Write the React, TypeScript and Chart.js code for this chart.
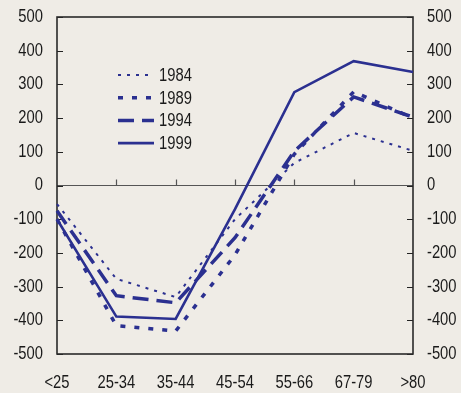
import React, { useEffect, useRef } from "react";
import { Chart, registerables } from "chart.js";

Chart.register(...registerables);

const categories = ["<25", "25-34", "35-44", "45-54", "55-66", "67-79", ">80"];
const seriesNames = ["1984", "1989", "1994", "1999"];
const values1984 = [-55, -277, -331, -100, 67, 156, 103];
const values1989 = [-100, -416, -432, -206, 93, 278, 200];
const values1994 = [-75, -327, -348, -155, 102, 263, 203];
const values1999 = [-100, -389, -396, -70, 277, 369, 337];
const yTicks = [-500, -400, -300, -200, -100, 0, 100, 200, 300, 400, 500];

const BG = "#EFECE6";
const LINE = "#2B3090";
const TEXT = "#1a1a1a";
const FONT = "18px 'Liberation Sans', Arial, sans-serif";
const NARROW = 0.82;

function narrowText(ctx: CanvasRenderingContext2D, text: string, x: number, y: number, align: CanvasTextAlign) {
  ctx.save();
  ctx.translate(x, y);
  ctx.scale(NARROW, 1);
  ctx.font = FONT;
  ctx.fillStyle = TEXT;
  ctx.textAlign = align;
  ctx.textBaseline = "middle";
  ctx.fillText(text, 0, 0);
  ctx.restore();
}

export default function App() {
  const ref = useRef<HTMLCanvasElement | null>(null);
  useEffect(() => {
    const canvas = ref.current;
    if (!canvas) return;
    const framePlugin = {
      id: "frame",
      beforeDraw(chart: any) {
        const { ctx, width, height } = chart;
        ctx.save();
        ctx.fillStyle = BG;
        ctx.fillRect(0, 0, width, height);
        ctx.restore();
      },
      beforeDatasetsDraw(chart: any) {
        const { ctx, chartArea: a, scales } = chart;
        const y = scales.y;
        const x = scales.x;
        ctx.save();
        const y0 = y.getPixelForValue(0);
        ctx.strokeStyle = "#555";
        ctx.lineWidth = 1.2;
        ctx.beginPath();
        ctx.moveTo(a.left, y0);
        ctx.lineTo(a.right, y0);
        ctx.stroke();
        for (let i = 1; i < categories.length - 1; i++) {
          const px = Math.round(x.getPixelForValue(i)) + 0.5;
          ctx.beginPath();
          ctx.moveTo(px, y0);
          ctx.lineTo(px, y0 - 6);
          ctx.stroke();
        }
        ctx.strokeStyle = "#222";
        ctx.lineWidth = 1.2;
        yTicks.forEach((v) => {
          const py = Math.round(y.getPixelForValue(v)) + 0.5;
          ctx.beginPath();
          ctx.moveTo(a.left, py);
          ctx.lineTo(a.left + 6, py);
          ctx.moveTo(a.right, py);
          ctx.lineTo(a.right - 6, py);
          ctx.stroke();
        });
        ctx.strokeStyle = "#2a2a2a";
        ctx.lineWidth = 1.6;
        ctx.strokeRect(a.left, a.top, a.right - a.left, a.bottom - a.top);
        // tick labels
        yTicks.forEach((v) => {
          const py = y.getPixelForValue(v);
          narrowText(ctx, String(v), a.left - 14, py, "right");
          narrowText(ctx, String(v), a.right + 14, py, "left");
        });
        categories.forEach((c, i) => {
          narrowText(ctx, c, x.getPixelForValue(i), a.bottom + 29, "center");
        });
        ctx.restore();
      },
      afterDatasetsDraw(chart: any) {
        const { ctx, chartArea: a } = chart;
        ctx.save();
        const x1 = a.left + 61;
        const x2 = a.left + 97;
        chart.data.datasets.forEach((ds: any, i: number) => {
          const py = a.top + 58 + i * 22.7;
          ctx.strokeStyle = ds.borderColor;
          ctx.lineWidth = ds.borderWidth;
          ctx.setLineDash(ds.borderDash || []);
          ctx.beginPath();
          ctx.moveTo(x1, py);
          ctx.lineTo(x2, py);
          ctx.stroke();
          ctx.setLineDash([]);
          narrowText(ctx, ds.label, x2 + 5, py + 1, "left");
        });
        ctx.restore();
      },
    };

    const mk = (label: string, data: number[], width: number, dash: number[]) => ({
      label,
      data,
      borderColor: LINE,
      backgroundColor: LINE,
      borderWidth: width,
      borderDash: dash,
      pointRadius: 0,
      tension: 0,
      fill: false,
    });

    const hiddenTicks = { display: false };
    const chart = new Chart(canvas, {
      type: "line",
      data: {
        labels: categories,
        datasets: [
          mk(seriesNames[0], values1984, 2, [3, 6]),
          mk(seriesNames[1], values1989, 3.5, [5, 9]),
          mk(seriesNames[2], values1994, 3.5, [16, 8]),
          mk(seriesNames[3], values1999, 2.6, []),
        ],
      },
      options: {
        animation: false,
        responsive: false,
        layout: { padding: { top: 17, left: 0, right: 0, bottom: 0 } },
        plugins: { legend: { display: false }, tooltip: { enabled: false } },
        scales: {
          x: {
            type: "category",
            offset: false,
            grid: { display: false, drawTicks: false },
            border: { display: false },
            ticks: hiddenTicks,
            afterFit(s: any) {
              s.height = 39;
            },
          },
          y: {
            position: "left",
            min: -500,
            max: 500,
            grid: { display: false, drawTicks: false },
            border: { display: false },
            ticks: { ...hiddenTicks, stepSize: 100 },
            afterFit(s: any) {
              s.width = 57;
            },
          },
          y2: {
            position: "right",
            min: -500,
            max: 500,
            grid: { display: false, drawTicks: false },
            border: { display: false },
            ticks: { ...hiddenTicks, stepSize: 100 },
            afterFit(s: any) {
              s.width = 48;
            },
          },
        },
      },
      plugins: [framePlugin],
    } as any);
    return () => chart.destroy();
  }, []);
  return (
    <div style={{ position: "fixed", left: 0, top: 0, width: 461, height: 393, background: BG }}>
      <canvas ref={ref} width={461} height={393} />
    </div>
  );
}
